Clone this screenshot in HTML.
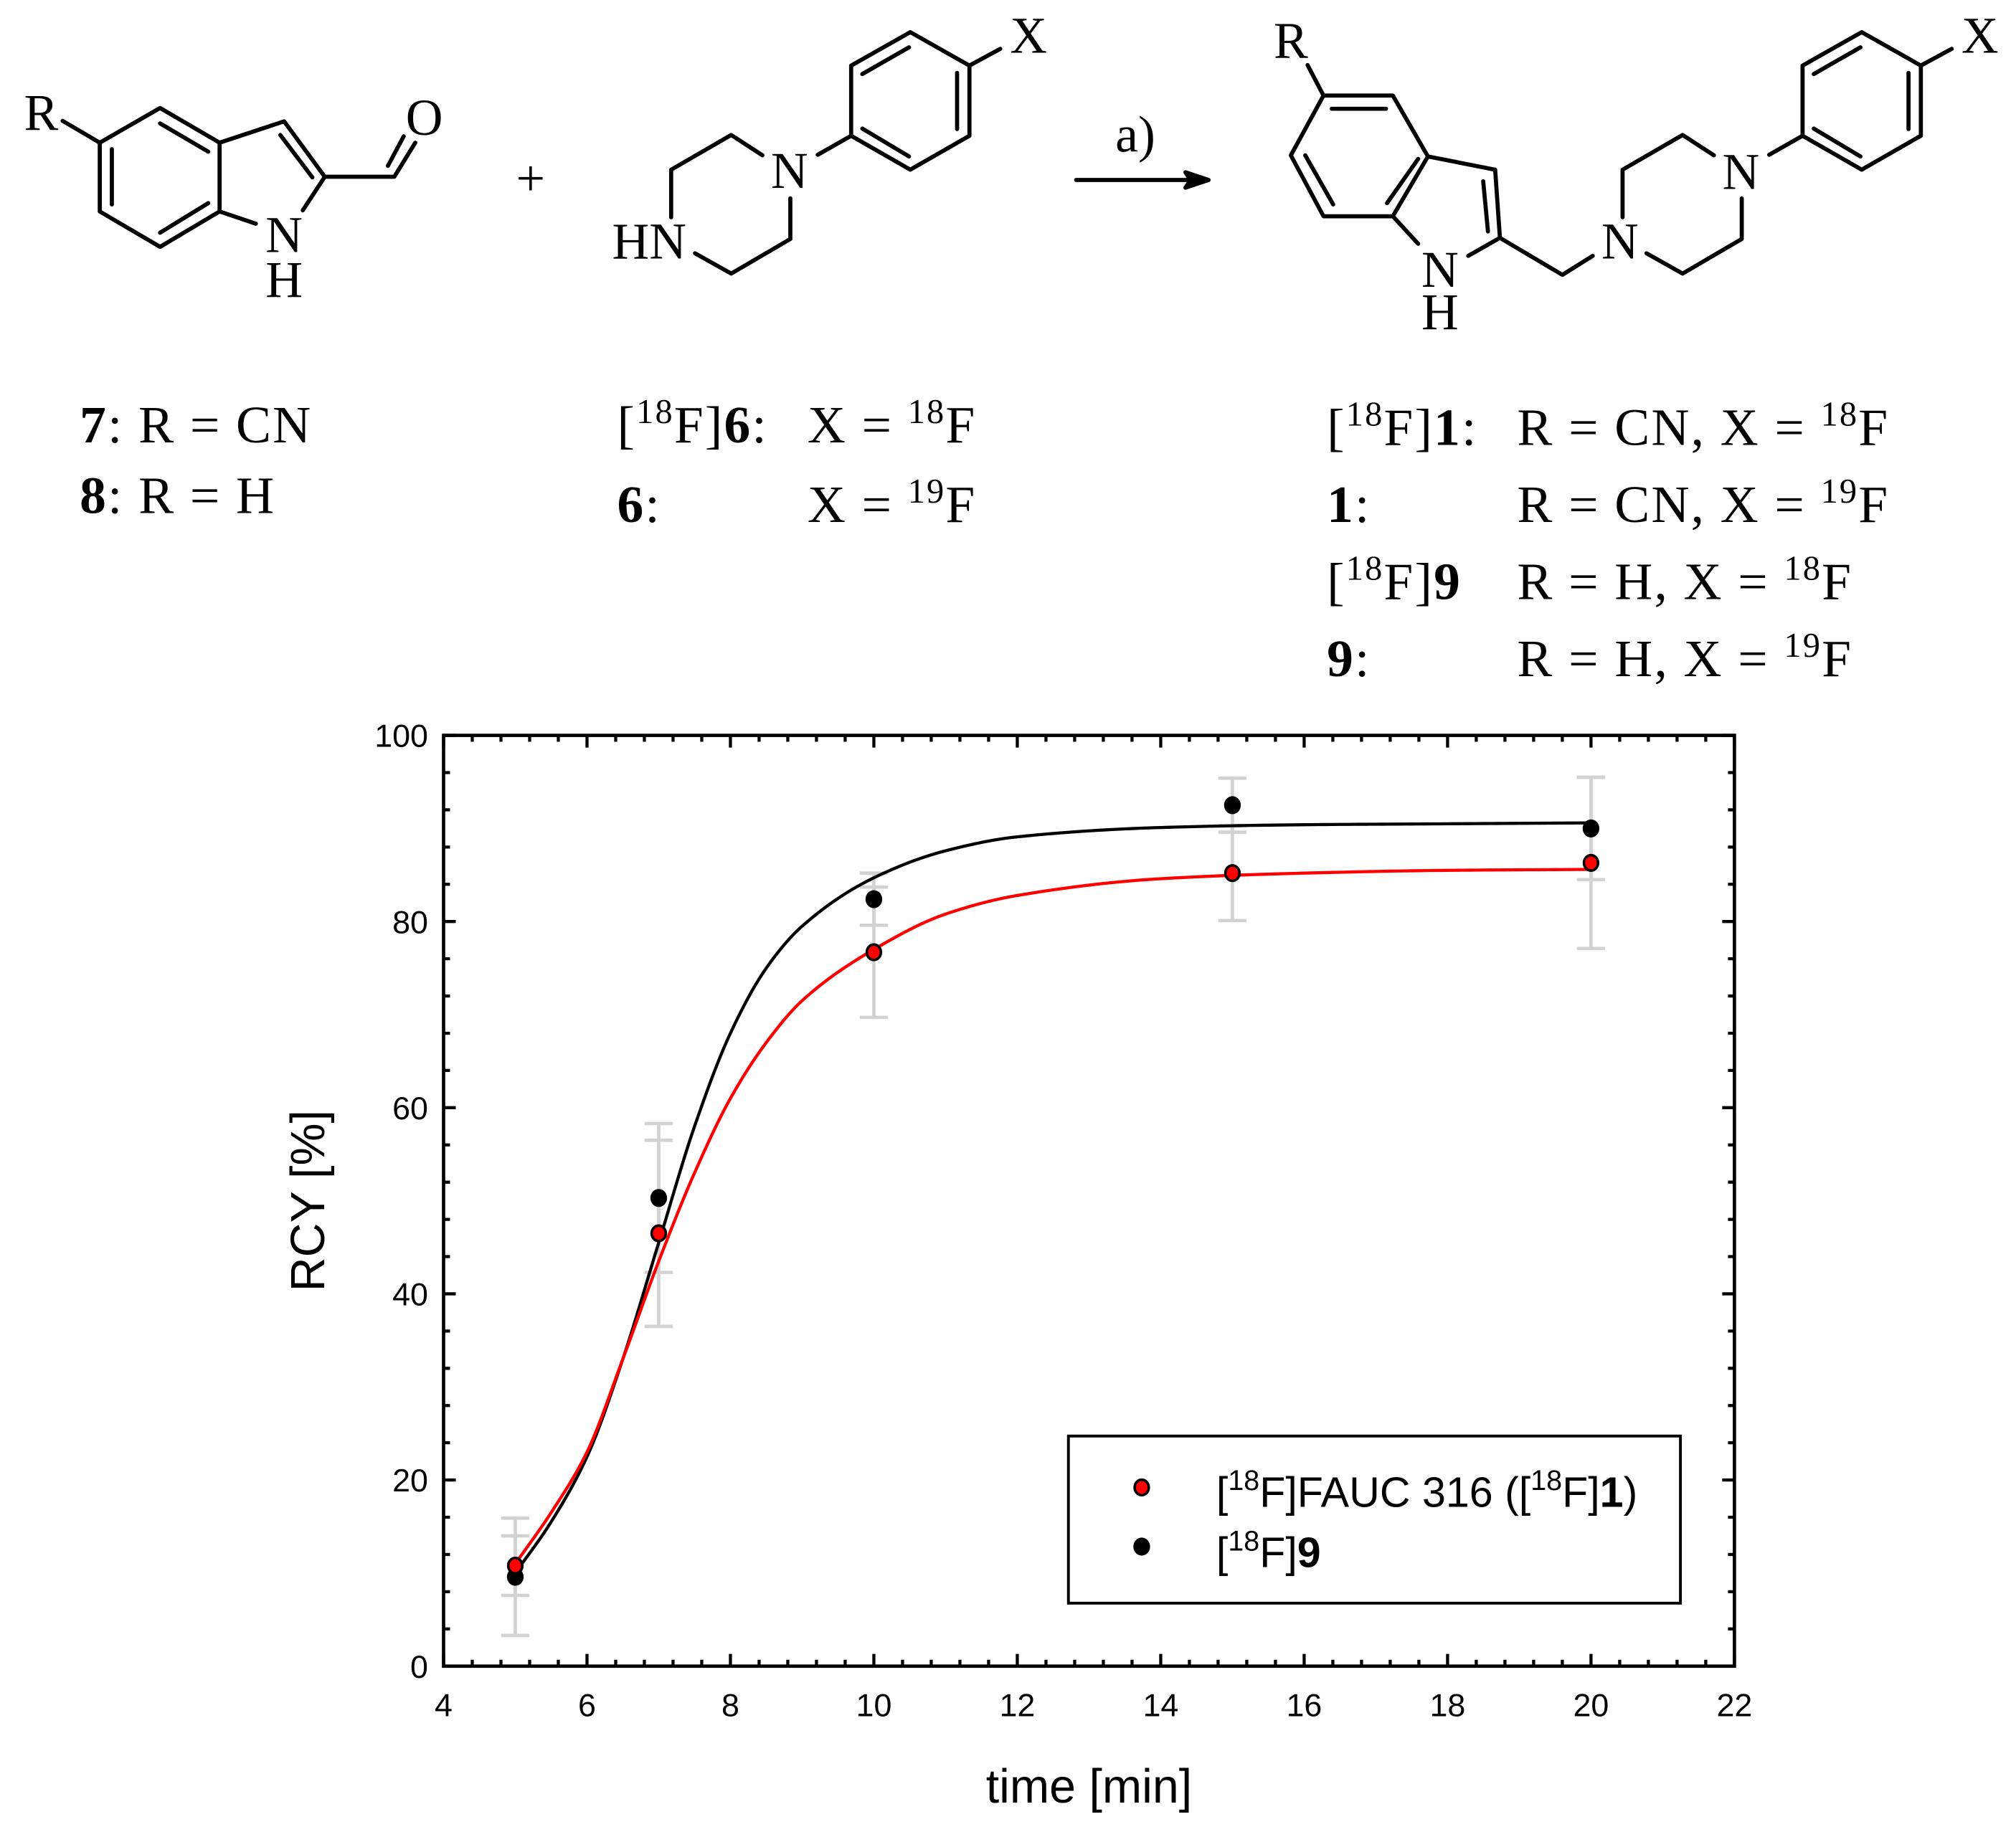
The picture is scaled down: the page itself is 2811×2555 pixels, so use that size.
<!DOCTYPE html>
<html><head><meta charset="utf-8"><title>RCY vs time</title>
<style>
html,body{margin:0;padding:0;background:#fff;}
svg{display:block;}
.chem{font-family:"Liberation Serif",serif;fill:#000;}
.ax{font-family:"Liberation Sans",sans-serif;fill:#000;}
</style></head>
<body>
<svg id="fig" xmlns="http://www.w3.org/2000/svg" width="2811" height="2555" viewBox="0 0 1568 1425" preserveAspectRatio="none">
<rect x="0" y="0" width="1568" height="1425" fill="#fff"/>
<g stroke="#000" stroke-width="3.2" fill="none" stroke-linecap="round" stroke-linejoin="round">
  <g>
    <polyline points="48.7,94 77.6,111"/>
    <polygon points="77.6,111 124.5,84 170.8,111 170.8,164.5 124.5,192 77.6,164.5"/>
    <line x1="87" y1="116" x2="87" y2="159"/>
    <line x1="124.5" y1="96" x2="162" y2="118"/>
    <line x1="124.5" y1="181" x2="162" y2="158"/>
    <polyline points="170.8,111 221,94.4 252.6,137.5 235.5,163.6"/>
    <line x1="218" y1="105" x2="243" y2="138"/>
    <line x1="170.8" y1="164.5" x2="199" y2="174"/>
    <polyline points="252.6,137.5 306.7,137.5 323,111"/>
    <line x1="301.7" y1="129" x2="314" y2="106"/>
  </g>
  <g>
    <polyline points="522,169 522,132 568.7,105 593,120.8"/>
    <polyline points="614.7,154.3 614.7,185.9 568.7,212.8 540.6,197"/>
    <line x1="636" y1="120.4" x2="662" y2="105.6"/>
    <polygon points="662,105.6 662,51 708,25 754,51 754,105.6 708,132"/>
    <line x1="670.7" y1="57.6" x2="707" y2="36.8"/>
    <line x1="744.4" y1="56.7" x2="744.4" y2="100.4"/>
    <line x1="670.7" y1="100" x2="707" y2="121.7"/>
    <line x1="754" y1="51" x2="778" y2="38"/>
  </g>
  <g>
    <line x1="837" y1="140" x2="930" y2="140"/>
    <polygon points="940,140 922,134 926,140 922,146" fill="#000"/>
  </g>
  <g>
    <line x1="1017" y1="50.6" x2="1029.4" y2="74.3"/>
    <polygon points="1029.4,74.3 1083.3,74.3 1110.6,121.7 1083.3,168.2 1029.4,168.2 1004,120.8"/>
    <line x1="1035.8" y1="84.6" x2="1078" y2="84.6"/>
    <line x1="1015.2" y1="120.8" x2="1036.9" y2="159"/>
    <line x1="1078.8" y1="158" x2="1103" y2="123.6"/>
    <polyline points="1110.6,121.7 1162.9,132 1166.6,185 1142,199"/>
    <line x1="1153.6" y1="141" x2="1157.3" y2="180"/>
    <line x1="1083.3" y1="168.2" x2="1103" y2="189.6"/>
    <polyline points="1166.6,185 1215.2,213.8 1238.8,199"/>
    <polyline points="1262,169 1262,132 1308.7,105 1333,120.8"/>
    <polyline points="1354.7,154.3 1354.7,185.9 1308.7,212.8 1280.6,197"/>
    <line x1="1376" y1="120.4" x2="1402" y2="105.6"/>
    <polygon points="1402,105.6 1402,51 1448,25 1494,51 1494,105.6 1448,132"/>
    <line x1="1410.7" y1="57.6" x2="1447" y2="36.8"/>
    <line x1="1484.4" y1="56.7" x2="1484.4" y2="100.4"/>
    <line x1="1410.7" y1="100" x2="1447" y2="121.7"/>
    <line x1="1494" y1="51" x2="1518" y2="38"/>
  </g>
</g>
<g class="chem" font-size="40">
  <text x="32" y="101" text-anchor="middle">R</text>
  <text x="330" y="105" text-anchor="middle">O</text>
  <text x="221" y="196" text-anchor="middle">N</text>
  <text x="221" y="231" text-anchor="middle">H</text>
  <text x="412.7" y="152" text-anchor="middle">+</text>
  <text x="505" y="201" text-anchor="middle">HN</text>
  <text x="614" y="146" text-anchor="middle">N</text>
  <text x="800" y="41" text-anchor="middle">X</text>
  <text x="883" y="118" text-anchor="middle">a)</text>
  <text x="1004" y="45" text-anchor="middle">R</text>
  <text x="1120" y="223" text-anchor="middle">N</text>
  <text x="1120" y="256" text-anchor="middle">H</text>
  <text x="1260" y="201" text-anchor="middle">N</text>
  <text x="1354" y="147" text-anchor="middle">N</text>
  <text x="1540" y="41" text-anchor="middle">X</text>
</g>
<g class="chem" font-size="41" letter-spacing="1.2">
  <text x="62" y="344"><tspan font-weight="bold">7</tspan>: R = CN</text>
  <text x="62" y="399"><tspan font-weight="bold">8</tspan>: R = H</text>
  <text x="480" y="344">[<tspan font-size="27" dy="-15">18</tspan><tspan dy="15">F]</tspan><tspan font-weight="bold">6</tspan>:</text>
  <text x="628" y="344">X = <tspan font-size="27" dy="-15">18</tspan><tspan dy="15">F</tspan></text>
  <text x="480" y="406"><tspan font-weight="bold">6</tspan>:</text>
  <text x="628" y="406">X = <tspan font-size="27" dy="-15">19</tspan><tspan dy="15">F</tspan></text>
  <text x="1032" y="346">[<tspan font-size="27" dy="-15">18</tspan><tspan dy="15">F]</tspan><tspan font-weight="bold">1</tspan>:</text>
  <text x="1180" y="346">R = CN, X = <tspan font-size="27" dy="-15">18</tspan><tspan dy="15">F</tspan></text>
  <text x="1032" y="406"><tspan font-weight="bold">1</tspan>:</text>
  <text x="1180" y="406">R = CN, X = <tspan font-size="27" dy="-15">19</tspan><tspan dy="15">F</tspan></text>
  <text x="1032" y="466">[<tspan font-size="27" dy="-15">18</tspan><tspan dy="15">F]</tspan><tspan font-weight="bold">9</tspan></text>
  <text x="1180" y="466">R = H, X = <tspan font-size="27" dy="-15">18</tspan><tspan dy="15">F</tspan></text>
  <text x="1032" y="526"><tspan font-weight="bold">9</tspan>:</text>
  <text x="1180" y="526">R = H, X = <tspan font-size="27" dy="-15">19</tspan><tspan dy="15">F</tspan></text>
</g>
<g id="chart"></g>
</svg>
<script>
// ---- chart data ----
const times = [5, 7, 10, 15, 20];
const rcyF1 = [10.8, 46.5, 76.7, 85.2, 86.3];
const errF1 = [3.2, 10.0, 7.0, 5.1, 9.2];
const rcyF9 = [9.6, 50.3, 82.4, 92.5, 90.0];
const errF9 = [6.3, 8.0, 2.8, 2.9, 5.5];
const fitTimes = [5, 5.5, 6, 6.5, 7, 7.5, 8, 8.5, 9, 10, 11, 12, 14, 16, 18, 20];
const fitF1 = [11, 16.5, 23, 33, 43.5, 53, 61, 67, 71.5, 77, 80.8, 82.8, 84.6, 85.2, 85.5, 85.6];
const fitF9 = [10, 15.5, 22.5, 33, 45.5, 58, 68, 75, 79.5, 84.7, 87.6, 89.1, 90.1, 90.4, 90.5, 90.6];
const xTicks = [4, 6, 8, 10, 12, 14, 16, 18, 20, 22];
const yTicks = [0, 20, 40, 60, 80, 100];

const X0 = 345, X1 = 1349, Y0 = 1296, Y1 = 572;
const xMin = 4, xMax = 22, yMin = 0, yMax = 100;
const sx = v => X0 + (v - xMin) / (xMax - xMin) * (X1 - X0);
const sy = v => Y0 - (v - yMin) / (yMax - yMin) * (Y0 - Y1);
const NS = 'http://www.w3.org/2000/svg';
const chart = document.getElementById('chart');
function mk(tag, attrs, parent) {
  const e = document.createElementNS(NS, tag);
  for (const k in attrs) e.setAttribute(k, attrs[k]);
  (parent || chart).appendChild(e);
  return e;
}

const eg = mk('g', {stroke: '#d2d2d2', 'stroke-width': 2.6, fill: 'none'});


[[rcyF1, errF1, 'f1'], [rcyF9, errF9, 'f9']].forEach(([vals, errs, nm]) => {
  vals.forEach((v, i) => {
    const x = sx(times[i]);
    const yt = sy(v + errs[i]), yb = sy(v - errs[i]);
    const l = mk('path', {d: `M${x},${yt}V${yb}M${x-11},${yt}H${x+11}M${x-11},${yb}H${x+11}`}, eg);
    
    
  });
});

// monotone cubic (Fritsch-Carlson) interpolation in data space
function curvePath(xs, ys) {
  const n = xs.length, d = [], m = [];
  for (let i = 0; i < n - 1; i++) d.push((ys[i + 1] - ys[i]) / (xs[i + 1] - xs[i]));
  m[0] = d[0]; m[n - 1] = d[n - 2];
  for (let i = 1; i < n - 1; i++) {
    if (d[i - 1] * d[i] <= 0) m[i] = 0;
    else {
      const h0 = xs[i] - xs[i - 1], h1 = xs[i + 1] - xs[i];
      const w1 = 2 * h1 + h0, w2 = h1 + 2 * h0;
      m[i] = (w1 + w2) / (w1 / d[i - 1] + w2 / d[i]);
    }
  }
  let path = `M${sx(xs[0])},${sy(ys[0])}`;
  for (let i = 0; i < n - 1; i++) {
    const h = xs[i + 1] - xs[i];
    for (let s = 1; s <= 20; s++) {
      const t = s / 20, t2 = t * t, t3 = t2 * t;
      const y = (2*t3 - 3*t2 + 1) * ys[i] + (t3 - 2*t2 + t) * h * m[i] + (-2*t3 + 3*t2) * ys[i + 1] + (t3 - t2) * h * m[i + 1];
      path += `L${sx(xs[i] + t * h).toFixed(2)},${sy(y).toFixed(2)}`;
    }
  }
  return path;
}
const cF9 = mk('path', {d: curvePath(fitTimes, fitF9), stroke: '#000', 'stroke-width': 2.4, fill: 'none'});


const cF1 = mk('path', {d: curvePath(fitTimes, fitF1), stroke: '#f00', 'stroke-width': 2.4, fill: 'none'});



rcyF9.forEach((v, i) => {
  const c = mk('ellipse', {cx: sx(times[i]), cy: sy(v), rx: 6.5, ry: 7, fill: '#000'});
  
  
});
rcyF1.forEach((v, i) => {
  const c = mk('ellipse', {cx: sx(times[i]), cy: sy(v), rx: 5.5, ry: 6, fill: '#f00', stroke: '#000', 'stroke-width': 2});
  
  
});

const frame = mk('rect', {x: X0, y: Y1, width: X1 - X0, height: Y0 - Y1, fill: 'none', stroke: '#000', 'stroke-width': 2.6});



const tg = mk('g', {stroke: '#000', 'stroke-width': 2.4});


let td = '';
for (let k = 0; k <= 45; k++) {
  const v = xMin + k * 0.4, x = sx(v), L = (k % 5 === 0) ? 9.5 : 5;
  td += `M${x},${Y0}V${Y0 - L}M${x},${Y1}V${Y1 + L}`;
}
for (let k = 0; k <= 25; k++) {
  const v = yMin + k * 4, y = sy(v), L = (k % 5 === 0) ? 9.5 : 5;
  td += `M${X0},${y}H${X0 + L}M${X1},${y}H${X1 - L}`;
}
mk('path', {d: td}, tg);

const xl = mk('g', {class: 'ax', 'font-size': 25, 'text-anchor': 'middle'});


xTicks.forEach(v => { const t = mk('text', {x: sx(v), y: Y0 + 39}, xl); t.textContent = v; });
const yl = mk('g', {class: 'ax', 'font-size': 25, 'text-anchor': 'end'});


yTicks.forEach(v => { const t = mk('text', {x: X0 - 12, y: sy(v) + 9}, yl); t.textContent = v; });

const xt = mk('text', {x: 847, y: 1402, class: 'ax', 'font-size': 37, 'text-anchor': 'middle'});
xt.textContent = 'time [min]';


const yt = mk('text', {x: 252, y: 934, class: 'ax', 'font-size': 37, 'text-anchor': 'middle', transform: 'rotate(-90 252 934)'});
yt.textContent = 'RCY [%]';



const lg = mk('g', {});


mk('rect', {x: 831, y: 1117, width: 476, height: 130, fill: '#fff', stroke: '#000', 'stroke-width': 2.2}, lg);
const m1 = mk('ellipse', {cx: 888, cy: 1157, rx: 5.5, ry: 6, fill: '#f00', stroke: '#000', 'stroke-width': 2}, lg);


const m2 = mk('ellipse', {cx: 888, cy: 1203, rx: 6.5, ry: 7, fill: '#000'}, lg);


const l1 = mk('text', {x: 946, y: 1172, class: 'ax', 'font-size': 33}, lg);
l1.innerHTML = '[<tspan font-size="22" dy="-13">18</tspan><tspan dy="13">F]FAUC 316 ([</tspan><tspan font-size="22" dy="-13">18</tspan><tspan dy="13">F]</tspan><tspan font-weight="bold">1</tspan>)';


const l2 = mk('text', {x: 946, y: 1219, class: 'ax', 'font-size': 33}, lg);
l2.innerHTML = '[<tspan font-size="22" dy="-13">18</tspan><tspan dy="13">F]</tspan><tspan font-weight="bold">9</tspan>';


</script>
</body></html>
